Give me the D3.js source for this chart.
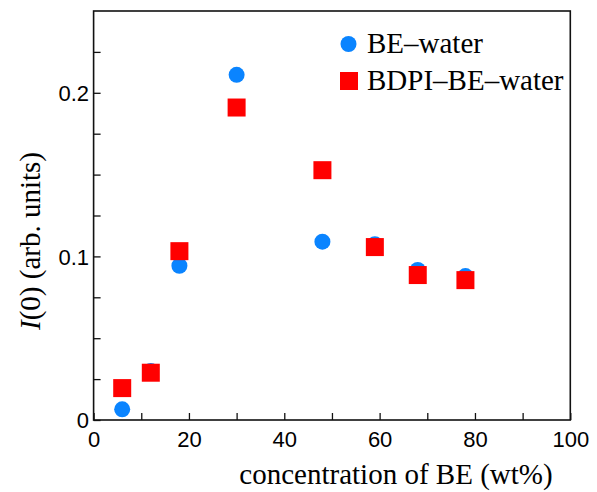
<!DOCTYPE html>
<html><head><meta charset="utf-8">
<script src="https://cdn.jsdelivr.net/npm/d3@7"></script>
<style>html,body{margin:0;padding:0;background:#fff;}</style>
</head><body>
<svg id="c" width="597" height="492"></svg>
<script>
const beX = [6, 12, 18, 30, 48, 59, 68, 78];
const beY = [0.0065, 0.030, 0.0943, 0.211, 0.109, 0.1075, 0.0917, 0.088];
const bdpiX = [6, 12, 18, 30, 48, 59, 68, 78];
const bdpiY = [0.0195, 0.0289, 0.1032, 0.191, 0.1527, 0.1057, 0.0886, 0.0855];
const xTicks = [0,10,20,30,40,50,60,70,80,90,100];
const xLabels = [0,20,40,60,80,100];
const yTicks = [0,0.025,0.05,0.075,0.1,0.125,0.15,0.175,0.2,0.225];
const yLabels = [0,0.1,0.2];
const seriesNames = ["BE\u2013water","BDPI\u2013BE\u2013water"];

const svg = d3.select("#c");
const L=93.6, R=570.3, T=11, B=420;
const x = d3.scaleLinear().domain([0,100]).range([L,R]);
const y = d3.scaleLinear().domain([0,0.25]).range([B,T]);
const axisColor="#111";

// frame
svg.append("rect").attr("x",L).attr("y",T).attr("width",R-L).attr("height",B-T)
  .attr("fill","none").attr("stroke",axisColor).attr("stroke-width",1.6);

// x axis ticks (inward)
const gx = svg.append("g").attr("transform",`translate(0,${B})`)
  .call(d3.axisBottom(x).tickValues(xTicks).tickSizeInner(-7).tickSizeOuter(0)
    .tickFormat(d=>xLabels.includes(d)?d3.format("d")(d):""));
gx.select(".domain").remove();
gx.selectAll(".tick line").attr("stroke",axisColor).attr("stroke-width",1.3);
gx.selectAll(".tick text").attr("y",27).attr("dy",0).attr("fill","#000")
  .style("font-family","'Liberation Sans', Arial, sans-serif").style("font-size","22px");

const gy = svg.append("g").attr("transform",`translate(${L},0)`)
  .call(d3.axisLeft(y).tickValues(yTicks).tickSizeInner(-7).tickSizeOuter(0)
    .tickFormat(d=>yLabels.some(v=>Math.abs(v-d)<1e-9)?(d===0?"0":d3.format(".1f")(d)):""));
gy.select(".domain").remove();
gy.selectAll(".tick line").attr("stroke",axisColor).attr("stroke-width",1.3);
gy.selectAll(".tick text").attr("x",-4.5).attr("dy","0.36em").attr("fill","#000")
  .style("font-family","'Liberation Sans', Arial, sans-serif").style("font-size","22px");

// data
const beData = beX.map((v,i)=>({x:v,y:beY[i]}));
const bdData = bdpiX.map((v,i)=>({x:v,y:bdpiY[i]}));
const blue="#0a84ff", red="#ff0000";
const sq=18;
svg.append("g").selectAll("circle").data(beData).join("circle")
  .attr("cx",d=>x(d.x)).attr("cy",d=>y(d.y)).attr("r",8).attr("fill",blue);
svg.append("g").selectAll("rect").data(bdData).join("rect")
  .attr("x",d=>x(d.x)-sq/2).attr("y",d=>y(d.y)-sq/2).attr("width",sq).attr("height",sq).attr("fill",red);

// legend
const serif="'Liberation Serif','Times New Roman',serif";
svg.append("circle").attr("cx",348.5).attr("cy",44).attr("r",8).attr("fill",blue);
svg.append("text").attr("x",367).attr("y",53).text(seriesNames[0])
  .style("font-family",serif).style("font-size","29px");
svg.append("rect").attr("x",349-sq/2).attr("y",81-sq/2).attr("width",sq).attr("height",sq).attr("fill",red);
svg.append("text").attr("x",367).attr("y",90).text(seriesNames[1])
  .style("font-family",serif).style("font-size","29px");

// axis titles
svg.append("text").attr("x",396).attr("y",484).attr("text-anchor","middle")
  .style("font-family",serif).style("font-size","29px")
  .text("concentration of BE (wt%)");
const yt = svg.append("text").attr("transform","translate(40,241) rotate(-90)")
  .attr("text-anchor","middle").style("font-family",serif).style("font-size","29px");
yt.append("tspan").style("font-style","italic").text("I");
yt.append("tspan").text("(0) (arb. units)");
</script>
</body></html>
